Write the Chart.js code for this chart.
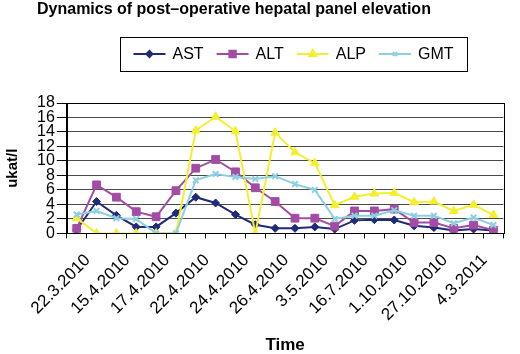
<!DOCTYPE html>
<html>
<head>
<meta charset="utf-8">
<script src="https://cdn.jsdelivr.net/npm/chart.js@4"></script>
<style>
  html, body { margin: 0; padding: 0; background: #fff; }
  #wrap { width: 520px; height: 354px; }
</style>
</head>
<body>
<div id="wrap"><canvas id="chart"></canvas></div>
<script>
const chartTitle = 'Dynamics of post\u2013operative hepatal panel elevation';

// every other date is printed on the axis, the rest are not readable
const dates = ['22.3.2010', '', '15.4.2010', '', '17.4.2010', '', '22.4.2010', '', '24.4.2010', '',
    '26.4.2010', '', '3.5.2010', '', '16.7.2010', '', '1.10.2010', '', '27.10.2010', '', '4.3.2011', ''];

const ast = [0.5, 4.4, 2.5, 0.9, 0.9, 2.8, 5.0, 4.2, 2.6, 1.2, 0.7, 0.7, 0.9, 0.6, 1.8, 1.9, 1.85, 1.05, 0.8, 0.4, 0.6, 0.4];
const alt = [0.7, 6.7, 5.0, 3.0, 2.3, 5.9, 9.0, 10.2, 8.5, 6.3, 4.4, 2.1, 2.1, 1.0, 3.1, 3.1, 3.35, 1.5, 1.5, 0.7, 1.15, 0.45];
const alp = [2.1, 0, 0, 0, 0, 0, 14.2, 16.1, 14.1, 0, 13.9, 11.2, 9.7, 3.9, 5.05, 5.5, 5.6, 4.3, 4.4, 3.1, 3.95, 2.55];
const gmt = [2.6, 3.1, 2.1, 2.0, 0, 0, 7.35, 8.2, 7.8, 7.5, 7.9, 6.8, 6.0, 2.0, 2.45, 2.45, 3.2, 2.45, 2.45, 1.4, 2.2, 1.15];

const yTicks = [0, 2, 4, 6, 8, 10, 12, 14, 16, 18];

const FONT = "'Liberation Sans', Arial, sans-serif";

const series = [
    {label: 'AST', data: ast, color: '#1f2a78', style: 'rectRot', radius: 4},
    {label: 'ALT', data: alt, color: '#a24ca4', style: 'rect', radius: 5.5},
    {label: 'ALP', data: alp, color: '#f4ef2e', style: 'triangle', radius: 5},
    {label: 'GMT', data: gmt, color: '#8ccfe0', style: 'crossRot', radius: 4},
];

// title, boxed legend and plot frame drawn on top of the chart
const decorations = {
    id: 'decorations',
    afterDraw(chart) {
        const ctx = chart.ctx;
        const area = chart.chartArea;
        ctx.save();

        ctx.strokeStyle = '#000';
        ctx.lineWidth = 1;
        ctx.strokeRect(Math.round(area.left) + 0.5, Math.round(area.top) + 0.5,
            Math.round(area.right - area.left), Math.round(area.bottom - area.top));

        ctx.fillStyle = '#000';
        ctx.font = 'bold 16px ' + FONT;
        ctx.textBaseline = 'middle';
        ctx.textAlign = 'left';
        ctx.fillText(chartTitle, 37, 10);

        // legend
        ctx.font = '16px ' + FONT;
        const lineLen = 32, gap = 7, itemGap = 13;
        const widths = series.map(s => ctx.measureText(s.label).width);
        const total = widths.reduce((a, w) => a + lineLen + gap + w, 0) + itemGap * (series.length - 1);
        const boxL = 120, boxR = 467, boxT = 37, boxB = 71;
        const cy = (boxT + boxB) / 2;
        ctx.strokeRect(boxL + 0.5, boxT + 0.5, boxR - boxL, boxB - boxT);
        let x = (boxL + boxR) / 2 - total / 2;
        series.forEach((s, i) => {
            ctx.strokeStyle = s.color;
            ctx.fillStyle = s.color;
            ctx.lineWidth = 2;
            ctx.beginPath();
            ctx.moveTo(x, cy);
            ctx.lineTo(x + lineLen, cy);
            ctx.stroke();
            Chart.helpers.drawPoint(ctx, {pointStyle: s.style, radius: s.radius - 1, borderWidth: 2, rotation: 0}, x + lineLen / 2, cy);
            ctx.fillStyle = '#000';
            ctx.fillText(s.label, x + lineLen + gap, cy + 1);
            x += lineLen + gap + widths[i] + itemGap;
        });
        ctx.restore();
    }
};

new Chart(document.getElementById('chart'), {
    type: 'line',
    data: {
        labels: dates,
        datasets: series.map((s, i) => ({
            label: s.label,
            data: s.data,
            borderColor: s.color,
            backgroundColor: s.color,
            borderWidth: 2,
            pointStyle: s.style,
            pointRadius: s.radius,
            pointBorderWidth: s.style === 'crossRot' ? 2 : 1,
            pointBorderColor: s.color,
            pointBackgroundColor: s.color,
            tension: 0,
            order: series.length - i,
        })),
    },
    options: {
        responsive: true,
        maintainAspectRatio: false,
        animation: false,
        layout: {padding: {top: 103, right: 3, left: 4, bottom: 0}},
        plugins: {
            legend: {display: false},
            tooltip: {enabled: false},
        },
        scales: {
            x: {
                offset: true,
                grid: {offset: true, drawOnChartArea: false, color: '#000', tickLength: 5},
                border: {color: '#000'},
                ticks: {
                    autoSkip: false,
                    maxRotation: 45,
                    minRotation: 45,
                    color: '#000',
                    padding: 12,
                    labelOffset: 11,
                    font: {family: FONT, size: 17},
                },
                title: {
                    display: true,
                    text: 'Time',
                    color: '#000',
                    font: {family: FONT, size: 17, weight: 'bold', lineHeight: 1},
                    padding: {top: 0, bottom: 0},
                },
            },
            y: {
                min: 0,
                max: 18,
                afterBuildTicks(scale) {
                    scale.ticks = yTicks.map(v => ({value: v}));
                },
                grid: {color: '#4a4a4a', tickLength: 10, tickColor: '#000'},
                border: {color: '#000'},
                ticks: {
                    autoSkip: false,
                    color: '#000',
                    padding: 2,
                    font: {family: FONT, size: 16},
                },
                title: {
                    display: true,
                    text: 'ukat/l',
                    color: '#000',
                    font: {family: FONT, size: 15, weight: 'bold'},
                    padding: {top: 0, bottom: 13},
                },
            },
        },
    },
    plugins: [decorations],
});
</script>
</body>
</html>
